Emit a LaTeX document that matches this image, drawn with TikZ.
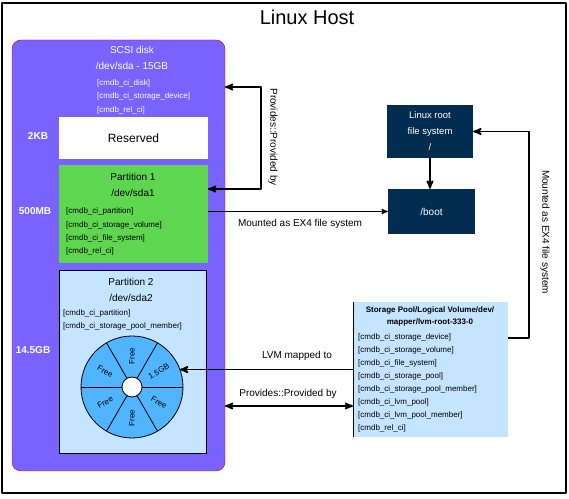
\documentclass[tikz,border=0pt]{standalone}
\usepackage[x11names, rgb]{xcolor}
\usepackage{fontspec}
\setmainfont{Liberation Sans}
\usepackage{tikz}
\usetikzlibrary{arrows,shapes}
\definecolor{diskpurple}{RGB}{122,98,255}
\definecolor{partgreen}{RGB}{95,214,80}
\definecolor{paleblue}{RGB}{196,228,255}
\definecolor{diskblue}{RGB}{80,180,255}
\definecolor{fsnavy}{RGB}{2,45,80}

\begin{document}
\begin{tikzpicture}[>=stealth',line join=bevel,
  area/.style={inner sep=0pt, outer sep=0pt},
  head/.style={align=center, inner sep=0pt, font=\fontsize{10bp}{16bp}\selectfont},
  ci/.style={anchor=west, inner sep=0pt, font=\fontsize{8bp}{10bp}\selectfont},
  size/.style={text=white, inner sep=0pt, font=\bfseries\fontsize{10bp}{12bp}\selectfont},
  fsbox/.style={fill=fsnavy, text=white, inner sep=0pt, align=center},
  lbl/.style={inner sep=0pt, font=\fontsize{10bp}{12bp}\selectfont},
  link/.style={line width=1.8bp},
  free/.style={inner sep=0pt, font=\fontsize{8bp}{9bp}\selectfont},
]
\useasboundingbox (0,0) rectangle (569bp,499bp);
%%
\node (host) at (284bp,251bp) [area, draw, line width=1.5bp, minimum width=564bp, minimum height=490bp] {};
  \node (title) at (307bp,482bp) [inner sep=0pt, font=\fontsize{20bp}{24bp}\selectfont] {Linux Host};
  \node (scsi) at (118.5bp,243.5bp) [area, draw=Red3, fill=diskpurple, rounded corners=9bp, minimum width=213bp, minimum height=431bp] {};
  \node (sdahead) at (132bp,441bp) [head, text=white] {SCSI disk\\/dev/sda - 15GB};
  \foreach \cname [count=\i] in {{[cmdb\_ci\_disk]},{[cmdb\_ci\_storage\_device]},{[cmdb\_rel\_ci]}}
    \node (sdaci\i) at (97bp,{429.5bp-13.5bp*\i}) [ci, text=white] {\cname};
  \node (reserved) at (133.5bp,361bp) [area, fill=white, minimum width=149bp, minimum height=42bp, font=\fontsize{12bp}{14bp}\selectfont] {Reserved};
  \node (part1) at (133.5bp,285bp) [area, fill=partgreen, minimum width=149bp, minimum height=98bp] {};
  \node (p1head) at (133bp,314bp) [head] {Partition 1\\/dev/sda1};
  \foreach \cname [count=\i] in {{[cmdb\_ci\_partition]},{[cmdb\_ci\_storage\_volume]},{[cmdb\_ci\_file\_system]},{[cmdb\_rel\_ci]}}
    \node (p1ci\i) at (66bp,{300.5bp-13.3bp*\i}) [ci] {\cname};
  \node (part2) at (132.5bp,137.5bp) [area, draw, line width=0.8bp, fill=paleblue, minimum width=147bp, minimum height=183bp] {};
  \node (p2head) at (131bp,209bp) [head] {Partition 2\\/dev/sda2};
  \foreach \cname [count=\i] in {{[cmdb\_ci\_partition]},{[cmdb\_ci\_storage\_pool\_member]}}
    \node (p2ci\i) at (63bp,{199bp-13bp*\i}) [ci] {\cname};
  \node (s2kb) at (38bp,363bp) [size] {2KB};
  \node (s500mb) at (35bp,288bp) [size] {500MB};
  \node (s145gb) at (33bp,149bp) [size] {14.5GB};
%
  \node (disk) at (132bp,112bp) [area, circle, draw, line width=0.8bp, fill=diskblue, minimum size=102bp] {};
  \foreach \a in {0,60,...,300}
    \draw [line width=0.8bp] (disk.center) ++(\a:10bp) -- (disk.\a);
  \node (hub) at (disk.center) [area, circle, draw, line width=0.8bp, fill=white, minimum size=20bp] {};
  \foreach \a/\r/\s in {30/30/1.5GB,90/90/Free,150/-30/Free,210/30/Free,270/90/Free,330/-30/Free}
    \path (disk.center) ++(\a:31bp) node (sec\a) [free, rotate=\r] {\s};
%
  \node (root) at (430bp,367.5bp) [fsbox, minimum width=86bp, minimum height=53bp, font=\fontsize{9.5bp}{16bp}\selectfont] {Linux root\\file system\\/};
  \node (boot) at (431.5bp,287.5bp) [fsbox, minimum width=87bp, minimum height=45bp, font=\fontsize{10bp}{12bp}\selectfont] {/boot};
  \node (pool) at (430.5bp,129.5bp) [area, fill=paleblue, minimum width=155bp, minimum height=135bp] {};
  \draw [line width=0.8bp] (pool.north west) -- (pool.south west);
  \node (poolhead) at (430bp,183bp) [align=center, inner sep=0pt, font=\bfseries\fontsize{8bp}{12bp}\selectfont] {Storage Pool/Logical Volume/dev/\\mapper/lvm-root-333-0};
  \foreach \cname [count=\i] in {{[cmdb\_ci\_storage\_device]},{[cmdb\_ci\_storage\_volume]},{[cmdb\_ci\_file\_system]},{[cmdb\_ci\_storage\_pool]},{[cmdb\_ci\_storage\_pool\_member]},{[cmdb\_ci\_lvm\_pool]},{[cmdb\_ci\_lvm\_pool\_member]},{[cmdb\_rel\_ci]}}
    \node (poolci\i) at (358bp,{175bp-13bp*\i}) [ci] {\cname};
%
  \coordinate (provtop) at (261bp,412bp);
  \coordinate (provbot) at (261bp,310bp);
  \draw [link,<->] (scsi.east |- provtop) -- (provtop) -- (provbot) -- (part1.east |- provbot);
  \node (provlbl) at (273bp,362bp) [lbl, rotate=-90] {Provides::Provided by};
  \draw [line width=1.2bp,->] (part1.east |- boot) -- (boot.west);
  \node (mntlbl) at (300bp,275bp) [lbl] {Mounted as EX4 file system};
  \draw [link,->] (root.south) -- (root.south |- boot.north);
  \coordinate (mntturn) at (529bp,161bp);
  \draw [link,->] (pool.east |- mntturn) -- (mntturn) |- (root.east);
  \node (rootlbl) at (545bp,267bp) [lbl, rotate=-90] {Mounted as EX4 file system};
  \draw [link,->] (pool.west |- disk.20) -- (disk.20);
  \node (lvmlbl) at (297bp,143bp) [lbl] {LVM mapped to};
  \coordinate (provlow) at (290bp,93bp);
  \draw [link,<->] (scsi.east |- provlow) -- (pool.west |- provlow);
  \node (provlowlbl) at (288bp,105bp) [lbl] {Provides::Provided by};
%
\end{tikzpicture}
\end{document}
